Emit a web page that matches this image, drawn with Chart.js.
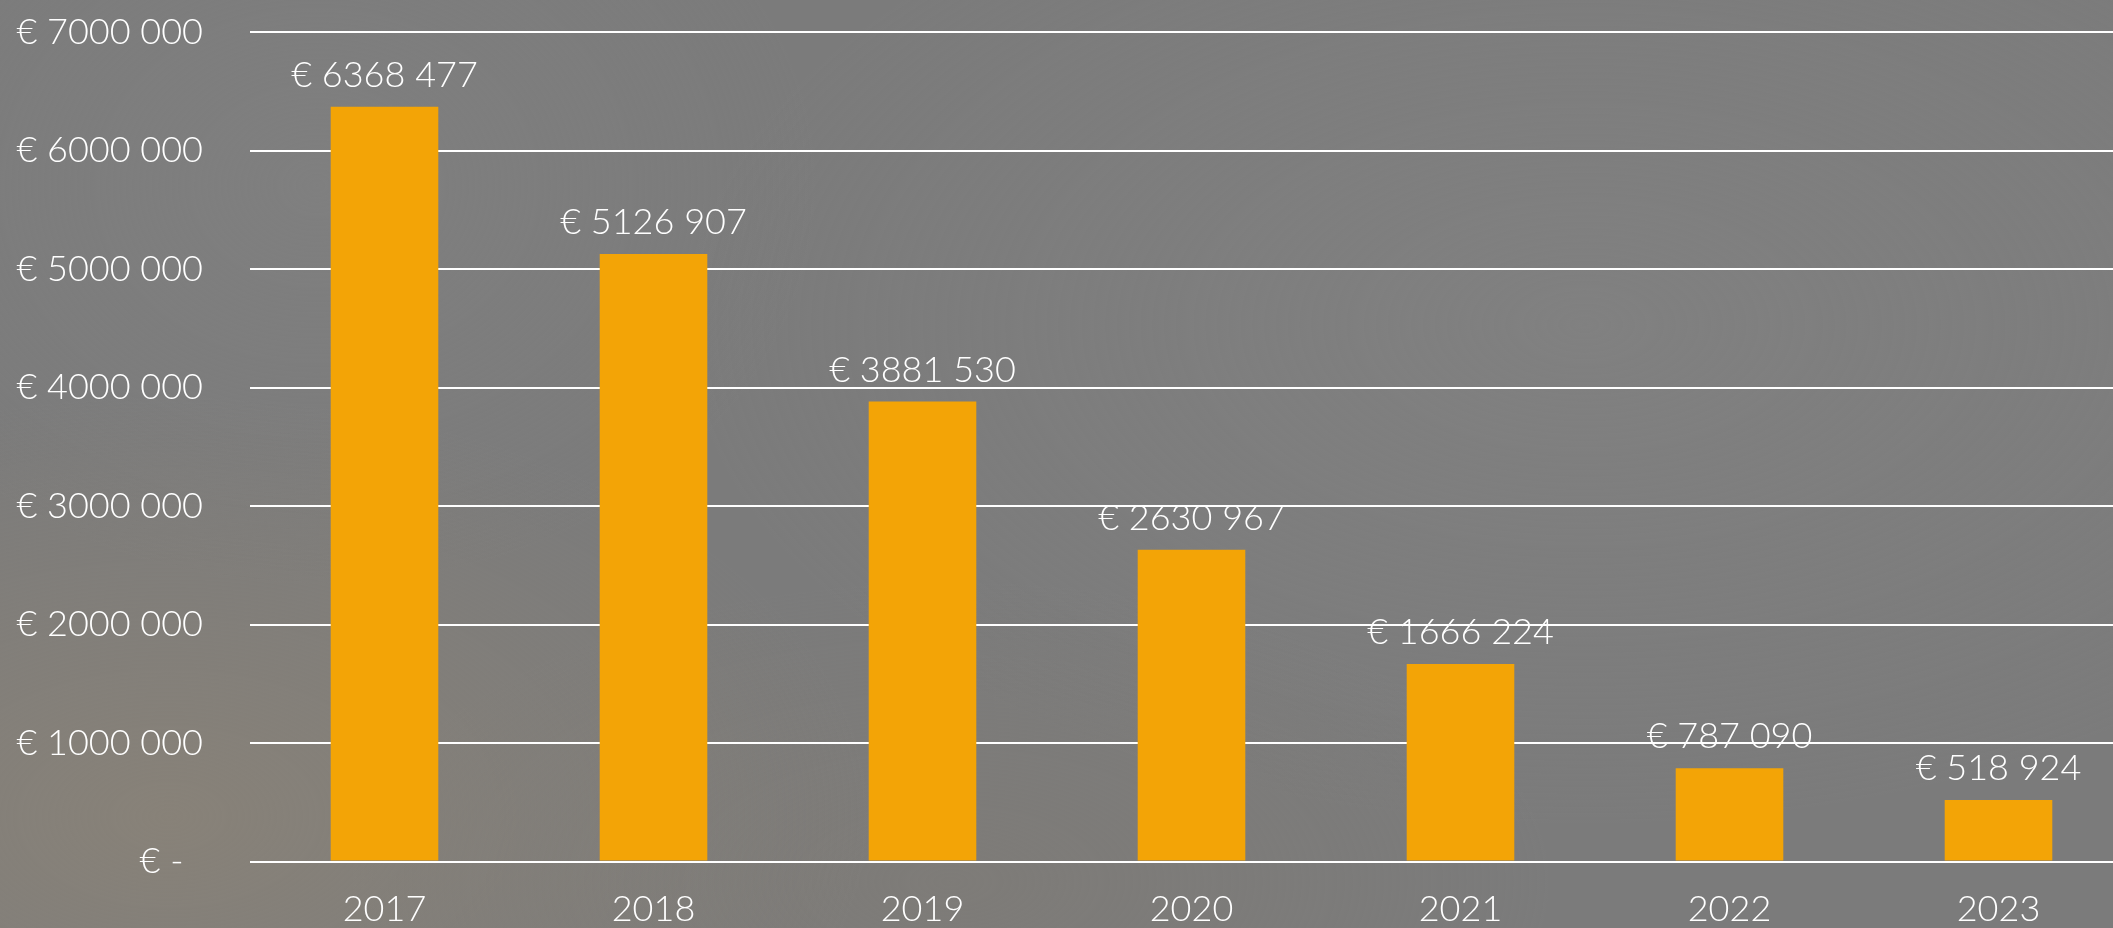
<!DOCTYPE html>
<html>
<head>
<meta charset="utf-8">
<script src="https://cdn.jsdelivr.net/npm/chart.js@4.4.1/dist/chart.umd.min.js"></script>
<style>
  html, body { margin: 0; padding: 0; width: 2113px; height: 928px; overflow: hidden; }
  body {
    background:
      radial-gradient(ellipse 700px 420px at 8% 88%, rgba(138,131,120,0.85), rgba(138,131,120,0) 100%),
      radial-gradient(ellipse 600px 300px at 45% 95%, rgba(128,124,118,0.6), rgba(128,124,118,0) 100%),
      radial-gradient(ellipse 900px 500px at 75% 35%, rgba(132,132,132,0.6), rgba(132,132,132,0) 100%),
      radial-gradient(ellipse 500px 400px at 15% 20%, rgba(130,130,130,0.6), rgba(130,130,130,0) 100%),
      #7b7b7b;
  }
  #wrap { position: absolute; left: 0; top: 0; width: 2133px; height: 928px; }
</style>
</head>
<body>
<div id="wrap"><canvas id="c"></canvas></div>
<script>
const categories = ['2017', '2018', '2019', '2020', '2021', '2022', '2023'];
const values = [6368477, 5126907, 3881530, 2630967, 1666224, 787090, 518924];
const yTickValues = [0, 1000000, 2000000, 3000000, 4000000, 5000000, 6000000, 7000000];
const yTickLabels = ['€ -  ', '€ 1000 000', '€ 2000 000', '€ 3000 000', '€ 4000 000', '€ 5000 000', '€ 6000 000', '€ 7000 000'];

const FONT = "'Lato', 'Open Sans', sans-serif";
const BAR_COLOR = '#F3A406';

function fmtEuro(v) {
  const thousands = Math.floor(v / 1000);
  const rest = String(v % 1000).padStart(3, '0');
  return '€ ' + thousands + ' ' + rest;
}

const valueLabels = {
  id: 'valueLabels',
  afterDatasetsDraw(chart) {
    const ctx = chart.ctx;
    const meta = chart.getDatasetMeta(0);
    ctx.save();
    ctx.font = `300 36px ${FONT}`;
    ctx.fillStyle = '#ffffff';
    ctx.textAlign = 'center';
    ctx.textBaseline = 'alphabetic';
    meta.data.forEach((bar, i) => {
      ctx.fillText(fmtEuro(values[i]), bar.x, bar.y - 20);
    });
    ctx.restore();
  }
};

new Chart(document.getElementById('c'), {
  type: 'bar',
  data: {
    labels: categories,
    datasets: [{
      data: values,
      backgroundColor: BAR_COLOR,
      borderWidth: 0,
      barPercentage: 0.4,
      categoryPercentage: 1.0
    }]
  },
  options: {
    responsive: true,
    maintainAspectRatio: false,
    animation: false,
    layout: { padding: { top: 32, left: 0, right: 0, bottom: 0 } },
    plugins: { legend: { display: false }, tooltip: { enabled: false } },
    scales: {
      x: {
        offset: true,
        grid: { display: false, drawTicks: false },
        border: { display: false },
        ticks: { color: '#ffffff', font: { family: FONT, size: 36, weight: 300 }, padding: 26 },
        afterFit(scale) { scale.height = 66.5; scale.paddingLeft = 0; scale.paddingRight = 0; }
      },
      y: {
        min: 0,
        max: 7000000,
        afterBuildTicks(scale) { scale.ticks = yTickValues.map(v => ({ value: v })); },
        grid: { color: '#ffffff', lineWidth: 2, drawTicks: false },
        border: { display: false },
        ticks: {
          color: '#ffffff',
          font: { family: FONT, size: 36, weight: 300 },
          padding: 47,
          callback(value) { const i = yTickValues.indexOf(value); return i >= 0 ? yTickLabels[i] : ''; }
        },
        afterFit(scale) { scale.width = 250; scale.paddingTop = 0; scale.paddingBottom = 0; }
      }
    }
  },
  plugins: [valueLabels]
});
</script>
</body>
</html>
